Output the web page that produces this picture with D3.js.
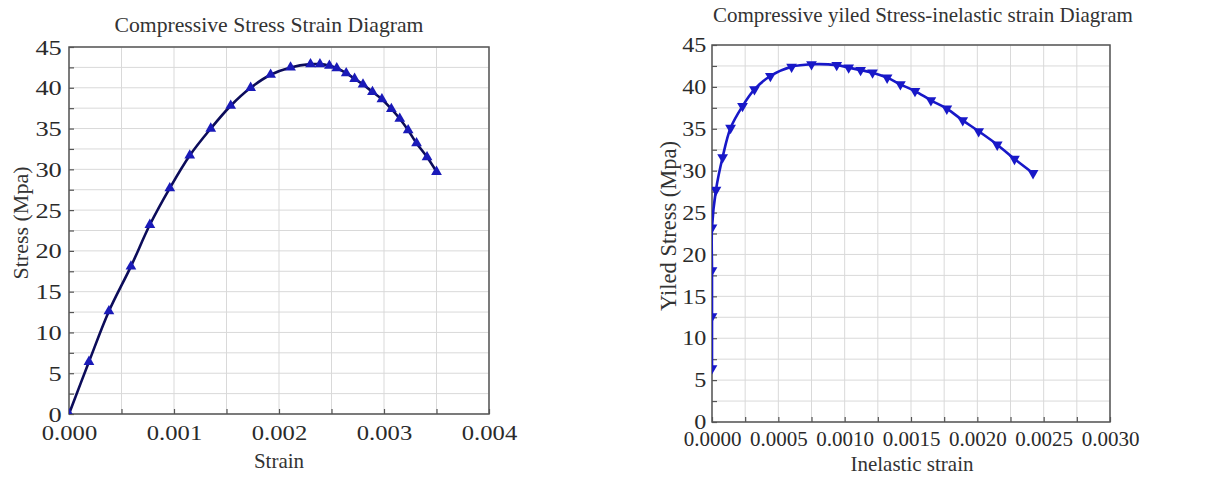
<!DOCTYPE html>
<html>
<head>
<meta charset="utf-8">
<script src="https://cdn.jsdelivr.net/npm/d3@7"></script>
<style>
  body { margin: 0; background: #fff; }
  svg { display: block; font-family: "Liberation Serif", "DejaVu Serif", serif; }
  .frame { fill: none; stroke: #555; stroke-width: 1.5; }
  .grid line { stroke: #d9d9d9; stroke-width: 1; }
  .axis path { display: none; }
  .axis line { stroke: #555; stroke-width: 1.2; }
  .axis text { fill: #2a2a2a; font-family: "Liberation Serif", serif; }
</style>
</head>
<body>
<svg width="1217" height="477"></svg>
<script>
// Compressive stress vs strain
var strain = [0, 0.00019, 0.00038, 0.00059, 0.00077, 0.00096, 0.00115, 0.00135, 0.00154, 0.00173,
  0.00192, 0.00211, 0.0023, 0.00239, 0.00248, 0.00255, 0.00264, 0.00272, 0.0028, 0.00289,
  0.00298, 0.00307, 0.00315, 0.00323, 0.00331, 0.00341, 0.0035];
var stress = [0, 6.4, 12.6, 18.1, 23.2, 27.7, 31.7, 35.0, 37.8, 40.0,
  41.6, 42.5, 42.9, 42.9, 42.7, 42.4, 41.8, 41.1, 40.4, 39.5,
  38.6, 37.4, 36.2, 34.8, 33.2, 31.5, 29.7];

// Yield stress vs inelastic strain
var inelastic = [0, 0, 0, 0, 0.00003, 0.00008, 0.00014, 0.00023, 0.00032, 0.00044,
  0.0006, 0.00075, 0.00094, 0.00103, 0.00112, 0.00121, 0.00132, 0.00142, 0.00153, 0.00165,
  0.00177, 0.00189, 0.00201, 0.00215, 0.00228, 0.00242];
var yieldStress = [6.4, 12.6, 18.1, 23.2, 27.7, 31.6, 35.1, 37.7, 39.7, 41.3,
  42.4, 42.7, 42.6, 42.3, 42.0, 41.7, 41.1, 40.3, 39.5, 38.4,
  37.4, 36.0, 34.7, 33.1, 31.4, 29.7];

var yTicks = [0, 5, 10, 15, 20, 25, 30, 35, 40, 45];
var yMinor = [2.5, 7.5, 12.5, 17.5, 22.5, 27.5, 32.5, 37.5, 42.5];
var xTicksLeft = [0, 0.001, 0.002, 0.003, 0.004];
var xMinorLeft = [0.0005, 0.0015, 0.0025, 0.0035];
var xTicksRight = [0, 0.0005, 0.001, 0.0015, 0.002, 0.0025, 0.003];
var xMinorRight = [0.00025, 0.00075, 0.00125, 0.00175, 0.00225, 0.00275];

var svg = d3.select("svg");

function drawChart(cfg) {
  var x = d3.scaleLinear().domain(cfg.xDomain).range([cfg.left, cfg.right]);
  var y = d3.scaleLinear().domain([0, 45]).range([cfg.bottom, cfg.top]);
  var g = svg.append("g");

  // grid at every minor step
  var grid = g.append("g").attr("class", "grid");
  grid.selectAll(".gx").data(cfg.xTicks.concat(cfg.xMinor)).enter().append("line")
    .attr("x1", function(d) { return x(d); }).attr("x2", function(d) { return x(d); })
    .attr("y1", cfg.top).attr("y2", cfg.bottom);
  grid.selectAll(".gy").data(yTicks.concat(yMinor)).enter().append("line")
    .attr("y1", function(d) { return y(d); }).attr("y2", function(d) { return y(d); })
    .attr("x1", cfg.left).attr("x2", cfg.right);

  // minor ticks
  g.append("g").attr("class", "axis")
    .attr("transform", "translate(0," + cfg.bottom + ")")
    .call(d3.axisBottom(x).tickValues(cfg.xMinor).tickSize(-5).tickFormat(""));
  g.append("g").attr("class", "axis")
    .attr("transform", "translate(" + cfg.left + ",0)")
    .call(d3.axisLeft(y).tickValues(yMinor).tickSize(-5).tickFormat(""));

  // major ticks + labels
  var xa = g.append("g").attr("class", "axis")
    .attr("transform", "translate(0," + cfg.bottom + ")")
    .call(d3.axisBottom(x).tickValues(cfg.xTicks).tickSize(-5).tickPadding(0).tickFormat(d3.format(cfg.xFmt)));
  xa.selectAll("text").attr("font-size", cfg.tickFont).attr("dy", null).attr("y", cfg.xLabelDy)
    .attr("transform", "scale(" + cfg.xScale + ",1)");

  var ya = g.append("g").attr("class", "axis")
    .attr("transform", "translate(" + cfg.left + ",0)")
    .call(d3.axisLeft(y).tickValues(yTicks).tickSize(-5).tickPadding(0).tickFormat(d3.format("d")));
  ya.selectAll("text").attr("font-size", cfg.tickFont).attr("x", cfg.yLabelDx).attr("dy", "0.32em")
    .attr("transform", "scale(" + cfg.yScale + ",1)");

  // frame
  g.append("rect").attr("class", "frame")
    .attr("x", cfg.left).attr("y", cfg.top)
    .attr("width", cfg.right - cfg.left).attr("height", cfg.bottom - cfg.top);

  // clip
  var clipId = "clip" + cfg.id;
  svg.append("clipPath").attr("id", clipId).append("rect")
    .attr("x", cfg.left).attr("y", cfg.top)
    .attr("width", cfg.right - cfg.left).attr("height", cfg.bottom - cfg.top);

  var pts = cfg.xs.map(function(d, i) { return [d, cfg.ys[i]]; });
  var line = d3.line()
    .x(function(d) { return x(d[0]); })
    .y(function(d) { return y(d[1]); })
    .curve(d3.curveCatmullRom.alpha(0.5));

  var plot = g.append("g").attr("clip-path", "url(#" + clipId + ")");
  plot.append("path").datum(pts)
    .attr("d", line)
    .attr("fill", "none")
    .attr("stroke", cfg.lineColor)
    .attr("stroke-width", 2.6);

  var sym = d3.symbol().type(d3.symbolTriangle).size(50);
  plot.selectAll(".m").data(pts).enter().append("path")
    .attr("d", sym)
    .attr("fill", cfg.markerColor)
    .attr("transform", function(d) {
      return "translate(" + x(d[0]) + "," + y(d[1]) + ")" + (cfg.down ? " rotate(180)" : "");
    });

  // titles
  g.append("text").attr("x", cfg.titleX).attr("y", cfg.titleY)
    .attr("text-anchor", "middle").attr("font-size", cfg.titleFont).attr("fill", "#333")
    .text(cfg.title);
  g.append("text").attr("x", cfg.xTitleX).attr("y", cfg.xTitleY)
    .attr("text-anchor", "middle").attr("font-size", 21).attr("fill", "#333")
    .text(cfg.xTitle);
  g.append("text")
    .attr("transform", "translate(" + cfg.yTitleX + "," + cfg.yTitleY + ") rotate(-90)")
    .attr("text-anchor", "middle").attr("font-size", cfg.yTitleFont).attr("fill", "#333")
    .text(cfg.yTitle);
}

drawChart({
  id: "L", left: 69, right: 489, top: 47, bottom: 414,
  xDomain: [0, 0.004], xTicks: xTicksLeft, xMinor: xMinorLeft, xFmt: ".3f",
  tickFont: 22, xScale: 1.12, yScale: 1.2, xLabelDy: 26, yLabelDx: -6,
  xs: strain, ys: stress, lineColor: "#0c0c5a", markerColor: "#1a1ab8", down: false,
  title: "Compressive Stress Strain Diagram", titleX: 269, titleY: 32, titleFont: 21.7,
  xTitle: "Strain", xTitleX: 279, xTitleY: 468,
  yTitle: "Stress (Mpa)", yTitleX: 28, yTitleY: 223, yTitleFont: 22
});

drawChart({
  id: "R", left: 712, right: 1110, top: 45, bottom: 422,
  xDomain: [0, 0.003], xTicks: xTicksRight, xMinor: xMinorRight, xFmt: ".4f",
  tickFont: 21, xScale: 1.0, yScale: 1.15, xLabelDy: 24, yLabelDx: -5,
  xs: inelastic, ys: yieldStress, lineColor: "#1818c8", markerColor: "#1818c8", down: true,
  title: "Compressive yiled Stress-inelastic strain Diagram", titleX: 923, titleY: 22, titleFont: 21,
  xTitle: "Inelastic strain", xTitleX: 912, xTitleY: 471,
  yTitle: "Yiled Stress (Mpa)", yTitleX: 676, yTitleY: 226, yTitleFont: 22.5
});
</script>
</body>
</html>
